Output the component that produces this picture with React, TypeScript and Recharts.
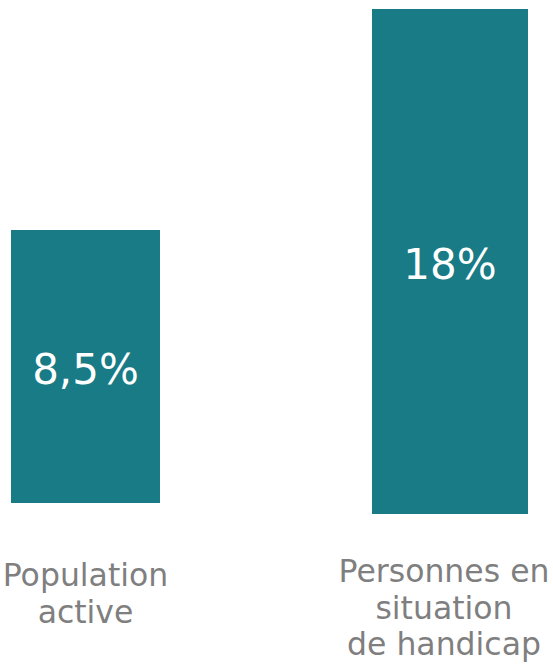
import { BarChart, Bar, XAxis, YAxis, LabelList } from 'recharts';

const categories = ['Population\nactive', 'Personnes en\nsituation\nde handicap'];
const values = [8.5, 18];
const valueLabels = ['8,5%', '18%'];

const BAR_COLOR = '#187b85';
const TEXT_COLOR = '#7f7f7f';
const FONT = '"DejaVu Sans", Verdana, sans-serif';

type PanelProps = {
  index: number;
  left: number;
  width: number;
  margin: { top: number; right: number; bottom: number; left: number };
  labelGap: number;
  labelShift: number;
};

const MultiLineTick = ({ x, y, payload, gap, shift }: any) => {
  const lines = String(payload.value).split('\n');
  return (
    <text x={x + shift} y={y} textAnchor="middle" fill={TEXT_COLOR} fontSize={31.5} fontFamily={FONT}>
      {lines.map((line, i) => (
        <tspan key={i} x={x + shift} dy={i === 0 ? gap : 36.5}>
          {line}
        </tspan>
      ))}
    </text>
  );
};

const Panel = ({ index, left, width, margin, labelGap, labelShift }: PanelProps) => {
  const data = [{ name: categories[index], value: values[index], label: valueLabels[index] }];
  return (
    <div style={{ position: 'absolute', left, top: 0 }}>
      <BarChart width={width} height={665} data={data} margin={margin} barCategoryGap={0}>
        <XAxis
          dataKey="name"
          height={100}
          tickLine={false}
          axisLine={false}
          tickSize={0}
          tickMargin={0}
          interval={0}
          tick={<MultiLineTick gap={labelGap} shift={labelShift} />}
        />
        <YAxis hide domain={[0, 'dataMax']} />
        <Bar dataKey="value" fill={BAR_COLOR} isAnimationActive={false}>
          <LabelList
            dataKey="label"
            position="center"
            fill="#ffffff"
            fontSize={42}
            fontFamily={FONT}
            dy={3}
          />
        </Bar>
      </BarChart>
    </div>
  );
};

export default function App() {
  return (
    <div style={{ position: 'absolute', left: 0, top: 0, width: 553, height: 665, background: '#fff' }}>
      <Panel index={0} left={0} width={180} margin={{ top: 230, right: 20, bottom: 62, left: 11 }} labelGap={83} labelShift={0} />
      <Panel index={1} left={330} width={223} margin={{ top: 9, right: 25, bottom: 51, left: 42 }} labelGap={68} labelShift={-6} />
    </div>
  );
}
